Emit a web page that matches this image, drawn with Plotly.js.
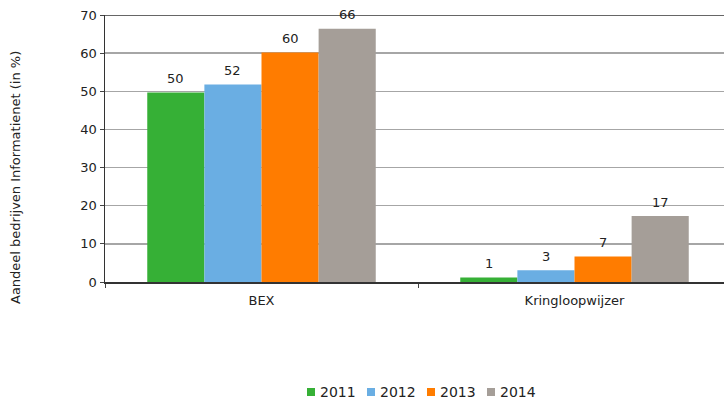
<!DOCTYPE html>
<html><head><meta charset="utf-8">
<script src="https://cdn.plot.ly/plotly-3.0.1.min.js"></script>
<style>html,body{margin:0;padding:0;background:#fff}#c{width:724px;height:401px}</style>
</head><body><div id="c"></div>
<script>
const categories = ["BEX", "Kringloopwijzer"];
const years = ["2011", "2012", "2013", "2014"];
const v2011 = [49.7, 1.2];
const v2012 = [51.8, 3.1];
const v2013 = [60.2, 6.7];
const v2014 = [66.4, 17.3];
const colors = ["#36b036", "#6aaee3", "#ff7c00", "#a59e98"];
const series = [v2011, v2012, v2013, v2014];

const W = 724, H = 401, ML = 105, MR = 0, MT = 15, MB = 119;
const PW = W - ML - MR, PH = H - MT - MB;
const bargap = 0.27;
const barW = (1 - bargap) / series.length;
const FONT = "DejaVu Sans";

const traces = series.map((vals, i) => ({
  type: "bar",
  name: years[i],
  x: categories,
  y: vals,
  marker: {color: colors[i], line: {width: 0}},
  hoverinfo: "none",
  showlegend: false
}));

// value labels above bars, positioned on the library's axes
const annotations = [];
series.forEach((vals, i) => {
  vals.forEach((v, c) => {
    annotations.push({
      xref: "x", yref: "y",
      x: c + (i - (series.length - 1) / 2) * barW, y: v,
      text: String(Math.round(v)), showarrow: false,
      yanchor: "middle", yshift: 14,
      font: {family: FONT, size: 13, color: "#222"}
    });
  });
});

// y-axis title
annotations.push({
  xref: "paper", yref: "paper", x: (16 - ML) / PW, y: (MT + PH - 178) / PH,
  xanchor: "center", yanchor: "middle",
  text: "Aandeel bedrijven Informatienet (in %)", textangle: -90, showarrow: false,
  font: {family: FONT, size: 13, color: "#222"}
});

// legend (bottom, centred)
const shapes = [{type: "line", xref: "paper", yref: "y", x0: 0, x1: 1, y0: 70, y1: 70, line: {color: "#333", width: 1.5}}];
const legY = 392, legX0 = 307, legPitch = 60, sq = 8;
years.forEach((yr, i) => {
  const lx = legX0 + i * legPitch;
  shapes.push({
    type: "rect", xref: "paper", yref: "paper",
    x0: (lx - ML) / PW, x1: (lx + sq - ML) / PW,
    y0: (MT + PH - (legY + sq / 2)) / PH, y1: (MT + PH - (legY - sq / 2)) / PH,
    fillcolor: colors[i], line: {width: 0}
  });
  annotations.push({
    xref: "paper", yref: "paper", x: (lx + sq + 3 - ML) / PW, y: (MT + PH - legY) / PH,
    xanchor: "left", yanchor: "middle", text: yr, showarrow: false,
    font: {family: FONT, size: 14, color: "#222"}
  });
});

const layout = {
  width: W, height: H,
  margin: {l: ML, r: MR, t: MT, b: MB},
  paper_bgcolor: "#fff", plot_bgcolor: "#fff",
  font: {family: FONT, size: 13, color: "#222"},
  barmode: "group", bargap: bargap, bargroupgap: 0,
  showlegend: false,
  xaxis: {
    type: "category", range: [-0.5, -0.5 + PW / 313],
    showline: true, linecolor: "#333", linewidth: 1.5,
    ticks: "outside", tickson: "boundaries", ticklen: 4, tickcolor: "#444",
    ticklabelstandoff: 6,
    tickfont: {family: FONT, size: 13, color: "#222"},
    showgrid: false, zeroline: false
  },
  yaxis: {
    range: [0, 70], dtick: 10, tick0: 0,
    showline: true, linecolor: "#333", linewidth: 1.5,
    ticks: "outside", ticklen: 4, tickcolor: "#444",
    showgrid: true, gridcolor: "#a6a6a6", gridwidth: 1.3,
    zeroline: false,
    tickfont: {family: FONT, size: 13, color: "#222"}
  },
  shapes: shapes,
  annotations: annotations
};
Plotly.newPlot("c", traces, layout, {staticPlot: true});
</script></body></html>
